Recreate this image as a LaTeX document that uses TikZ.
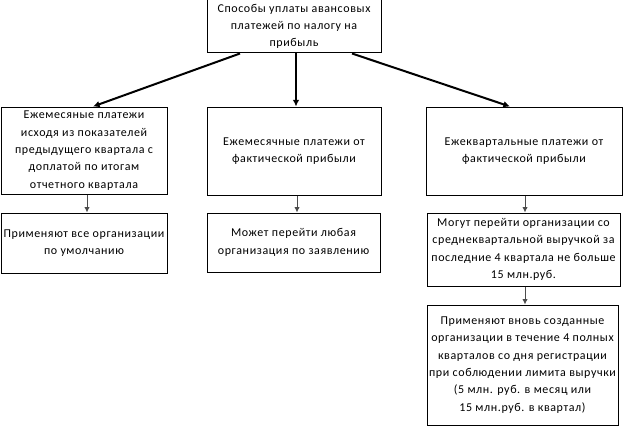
\documentclass[tikz,border=0pt]{standalone}
\usepackage{fontspec}
\setmainfont{Carlito}[LetterSpace=5]
\usetikzlibrary{arrows.meta,calc}
\begin{document}
\begin{tikzpicture}[x=0.75pt,y=-0.75pt,
  box/.style={draw=black,line width=0.75pt,align=center,inner sep=1pt,
    font=\fontsize{9}{13}\selectfont},
  thick arrow/.style={line width=1.5pt,-{Latex[length=5pt,width=5pt]}},
  thin arrow/.style={line width=0.75pt,draw=black!70,-{Latex[length=4pt,width=4pt]}}]
\useasboundingbox (0,0) rectangle (624,428);
\node[box,minimum width=130.5pt,minimum height=39.75pt] (top) at (294,26.5)
  {Способы уплаты авансовых\\платежей по налогу на\\прибыль};
\node[box,minimum width=124.5pt,minimum height=65.25pt] (l1) at (84,150.5)
  {Ежемесяные платежи\\исходя из показателей\\предыдущего квартала с\\доплатой по итогам\\отчетного квартала};
\node[box,minimum width=130.5pt,minimum height=66pt] (m1) at (294,151)
  {Ежемесячные платежи от\\фактической прибыли};
\node[box,minimum width=147pt,minimum height=66pt] (r1) at (524,151)
  {Ежеквартальные платежи от\\фактической прибыли};
\node[box,minimum width=124.5pt,minimum height=45pt] (l2) at (84,243)
  {Применяют все организации\\по умолчанию};
\node[box,minimum width=129.75pt,minimum height=44.25pt] (m2) at (293.5,242.5)
  {Может перейти любая\\организация по заявлению};
\node[box,minimum width=144.75pt,minimum height=54.75pt] (r2) at (523.5,249.5)
  {Могут перейти организации со\\среднеквартальной выручкой за\\последние 4 квартала не больше\\15 млн.руб.};
\node[box,minimum width=143.25pt,minimum height=90pt] (r3) at (522.5,365)
  {Применяют вновь созданные\\организации в течение 4 полных\\кварталов со дня регистрации\\при соблюдении лимита выручки\\(5 млн. руб. в месяц или\\15 млн.руб. в квартал)};
\draw[thick arrow] ($(top.south)+(-54,0)$) -- ($(l1.north)+(9,0)$);
\draw[thick arrow] ($(top.south)+(2,0)$) -- ($(m1.north)+(2,0)$);
\draw[thick arrow] ($(top.south)+(58,0)$) -- ($(r1.north)+(-14,0)$);
\draw[thin arrow] ($(l1.south)+(3,0)$) -- ($(l2.north)+(3,0)$);
\draw[thin arrow] ($(m1.south)+(3,0)$) -- ($(m2.north)+(3.5,0)$);
\draw[thin arrow] ($(r1.south)+(1,0)$) -- ($(r2.north)+(1.5,0)$);
\draw[thin arrow] ($(r2.south)+(1.5,0)$) -- ($(r3.north)+(2.5,0)$);
\end{tikzpicture}
\end{document}
